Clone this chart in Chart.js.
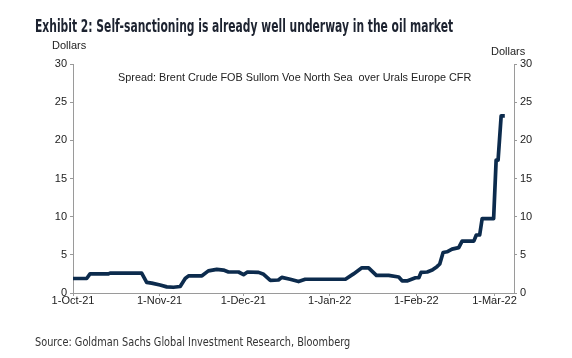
<!DOCTYPE html>
<html>
<head>
<meta charset="utf-8">
<script src="https://cdn.jsdelivr.net/npm/chart.js@4/dist/chart.umd.min.js"></script>
<style>
  html, body { margin: 0; padding: 0; background: #fff; }
  #wrap { position: relative; width: 572px; height: 358px; overflow: hidden; }
  canvas { position: absolute; left: 0; top: 0; }
  .txt { position: absolute; white-space: nowrap; display: inline-block; transform-origin: 0 50%; }
  #title { left: 35px; top: 16px; font: bold 17px "DejaVu Sans Condensed", "DejaVu Sans"; font-stretch: condensed; color: #1d2330; }
  #source { left: 35px; top: 334px; font: 13px "DejaVu Sans Condensed", "DejaVu Sans"; font-stretch: condensed; color: #333; }
  .unit { font: 11px "Liberation Sans", Arial; color: #222; }
  #unitL { left: 52px; top: 39px; }
  #unitR { left: 491px; top: 45px; }
  #note { left: 118px; top: 71px; font: 11px "Liberation Sans", Arial; color: #222; }
</style>
</head>
<body>
<div id="wrap">
  <canvas id="chart" width="572" height="358"></canvas>
  <span class="txt" id="title">Exhibit 2: Self-sanctioning is already well underway in the oil market</span>
  <span class="txt unit" id="unitL">Dollars</span>
  <span class="txt unit" id="unitR">Dollars</span>
  <span class="txt" id="note">Spread: Brent Crude FOB Sullom Voe North Sea&nbsp; over Urals Europe CFR</span>
  <span class="txt" id="source">Source: Goldman Sachs Global Investment Research, Bloomberg</span>
</div>
<script>
// days counted from 1-Oct-21
const days = [0, 4.9, 6.1, 12.7, 13.3, 24.6, 26.4, 28.2, 31.2, 33.6, 36, 38.4, 40.2, 41.4, 46.2, 48.5,
  51.5, 53.9, 55.7, 59.3, 61.1, 62.5, 66.5, 68.3, 70.7, 73.6, 74.8, 77.8, 80.8, 83.2, 97.6, 100.5,
  103.5, 105.9, 108.7, 113.1, 116.7, 117.9, 119.9, 122.7, 123.9, 124.7, 126.9, 128.7, 130.4, 131.4,
  132.6, 134.0, 135.8, 138.2, 139.4, 143.6, 144.5, 145.7, 146.6, 150.7, 151.6, 152.3, 153.4, 154.7];
const spread = [1.9, 1.9, 2.5, 2.5, 2.6, 2.6, 1.4, 1.3, 1.05, 0.8, 0.75, 0.85, 1.9, 2.25, 2.25, 2.9,
  3.1, 3.0, 2.75, 2.75, 2.4, 2.75, 2.7, 2.45, 1.65, 1.7, 2.05, 1.8, 1.5, 1.8, 1.8, 2.5,
  3.3, 3.3, 2.3, 2.3, 2.1, 1.6, 1.6, 2.0, 2.0, 2.7, 2.75, 3.0, 3.45, 3.8,
  5.3, 5.4, 5.75, 5.95, 6.8, 6.8, 7.6, 7.6, 9.75, 9.75, 17.4, 17.4, 23.2, 23.2];

const monthDays = [0, 31, 61, 92, 123, 151];
const monthLabels = ['1-Oct-21', '1-Nov-21', '1-Dec-21', '1-Jan-22', '1-Feb-22', '1-Mar-22'];
const yTicks = [0, 5, 10, 15, 20, 25, 30];

const axisGrey = '#9a9a9a';
const tickFont = { family: '"Liberation Sans", Arial', size: 11 };

function yAxis(pos, w) {
  return {
    position: pos,
    min: 0, max: 30,
    afterBuildTicks: a => { a.ticks = yTicks.map(v => ({ value: v })); },
    afterFit: a => { a.width = w; },
    ticks: { color: '#222', font: tickFont, padding: 3 },
    grid: { drawOnChartArea: false, drawTicks: true, tickLength: 3, color: axisGrey },
    border: { color: axisGrey }
  };
}

new Chart(document.getElementById('chart'), {
  type: 'line',
  data: {
    datasets: [{
      data: days.map((d, i) => ({ x: d, y: spread[i] })),
      borderColor: '#0c2b4d',
      borderWidth: 3.7,
      pointRadius: 0,
      tension: 0,
      borderJoinStyle: 'round'
    }]
  },
  options: {
    responsive: false,
    animation: false,
    layout: { padding: { top: 64, left: 0, right: 0, bottom: 0 } },
    plugins: { legend: { display: false }, tooltip: { enabled: false } },
    scales: {
      x: {
        type: 'linear',
        min: 0, max: 158,
        afterBuildTicks: a => { a.ticks = monthDays.map(v => ({ value: v })); },
        afterFit: a => { a.height = 65; },
        ticks: {
          color: '#222', font: tickFont, padding: -2, maxRotation: 0, autoSkip: false,
          callback: v => monthLabels[monthDays.indexOf(v)]
        },
        grid: { drawOnChartArea: false, drawTicks: true, tickLength: 3, color: axisGrey },
        border: { color: axisGrey }
      },
      y: yAxis('left', 73),
      y2: yAxis('right', 58)
    }
  }
});

function fit(id, w) {
  const el = document.getElementById(id);
  el.style.transform = 'scaleX(' + (w / el.offsetWidth) + ')';
}
fit('title', 418);
fit('source', 315);
fit('note', 353);
</script>
</body>
</html>
